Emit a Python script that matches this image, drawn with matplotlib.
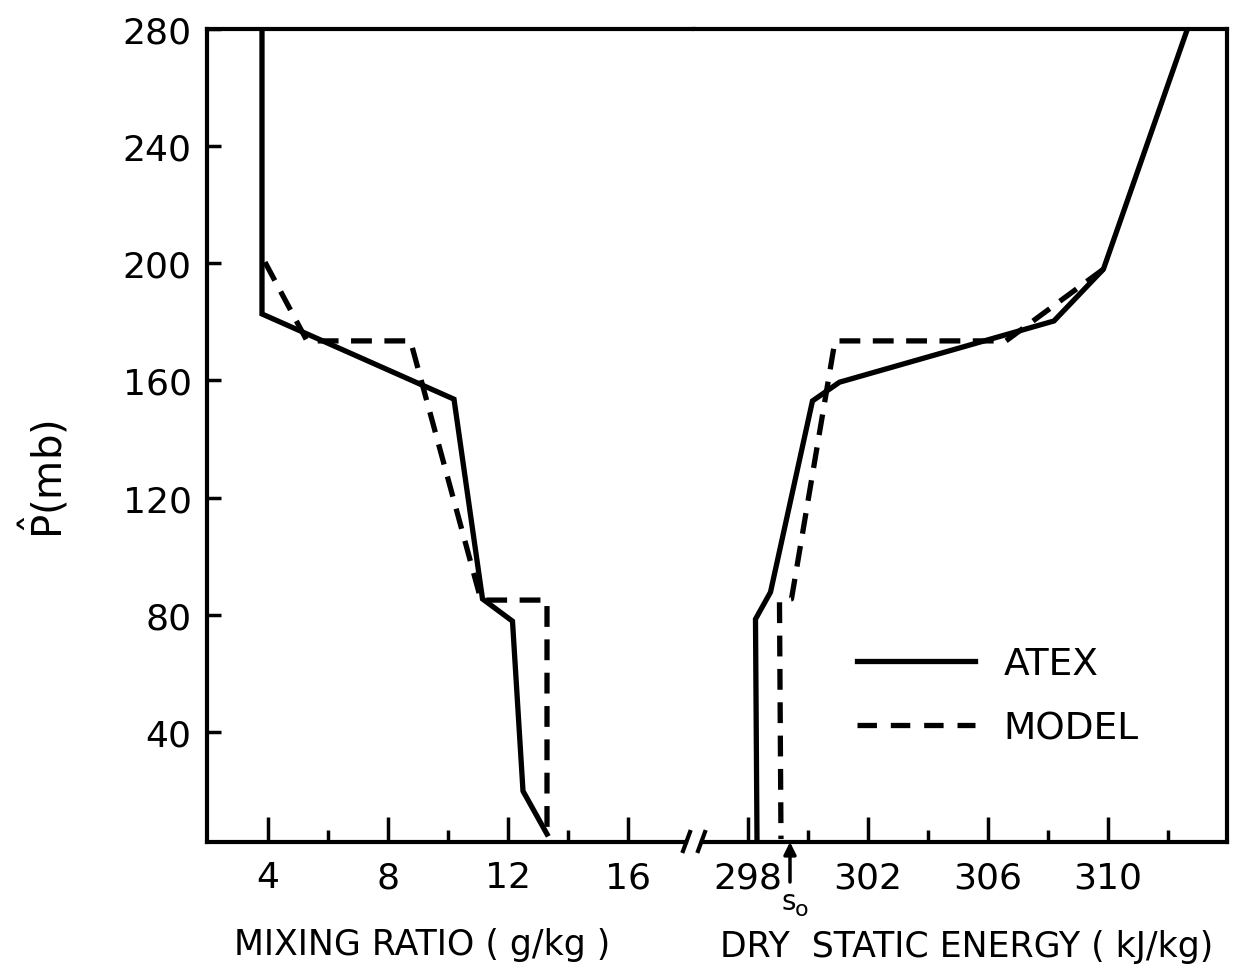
import numpy as np
import matplotlib.pyplot as plt
from matplotlib.lines import Line2D

plt.rcParams['font.family'] = ['DejaVu Sans']
plt.rcParams['lines.scale_dashes'] = False

# mixing ratio profiles (g/kg) against pressure depth (mb)
mr_atex_q = [3.8, 3.8, 10.2, 11.15, 12.15, 12.5, 13.3]
mr_atex_p = [280, 182.7, 153.6, 85.4, 77.8, 19.8, 5.1]
mr_model_q = [3.9, 5.3, 8.75, 11.1, 13.3, 13.3]
mr_model_p = [200.4, 173.5, 173.5, 85.0, 85.0, 5.1]

# dry static energy profiles (kJ/kg)
dse_atex_s = [312.65, 309.85, 308.2, 301.05, 300.15, 298.75, 298.25, 298.3]
dse_atex_p = [280, 198, 180.3, 159.4, 153, 87.7, 78.5, 3.4]
dse_model_s = [309.85, 306.6, 300.9, 299.45, 299.05, 299.1]
dse_model_p = [198, 173.5, 173.5, 85.4, 84.5, 3.4]

S0 = 299.4

p_ticks = [40, 80, 120, 160, 200, 240, 280]
q_major = [4, 8, 12, 16]
q_minor = [6, 10, 14]
s_major = [298, 302, 306, 310]
s_minor = [300, 304, 308, 312]

W, H = 1233, 970
fig = plt.figure(figsize=(W / 100, H / 100), dpi=100)

def fx(px):
    return px / W

def fy(py):
    return 1 - py / H

left, right, brk, top, bot = 207, 1227, 694, 30, 843
ax1 = fig.add_axes([fx(left), fy(bot), fx(brk - left), fy(top) - fy(bot)])
ax2 = fig.add_axes([fx(brk), fy(bot), fx(right - brk), fy(top) - fy(bot)], sharey=ax1)

lw = 3.8
dash = (15, 9)
for ax, xa, ya, xm, ym in [(ax1, mr_atex_q, mr_atex_p, mr_model_q, mr_model_p),
                           (ax2, dse_atex_s, dse_atex_p, dse_model_s, dse_model_p)]:
    ax.plot(xa, ya, color='k', lw=lw, solid_joinstyle='miter', label='ATEX')
    ax.plot(xm, ym, color='k', lw=lw, dashes=dash, label='MODEL')

ax1.set_xlim(1.967, 18.2)
ax2.set_xlim(296.2, 313.97)
ax1.set_ylim(2.4, 280)

for ax in (ax1, ax2):
    for sp in ax.spines.values():
        sp.set_linewidth(3)
ax1.spines['right'].set_visible(False)
ax2.spines['left'].set_visible(False)
ax1.spines['bottom'].set_bounds(1.967, 17.93)
ax2.spines['bottom'].set_bounds(296.47, 313.97)

ax1.set_yticks(p_ticks)
ax1.set_xticks(q_major)
ax1.set_xticks(q_minor, minor=True)
ax2.set_xticks(s_major)
ax2.set_xticks(s_minor, minor=True)
ax2.tick_params(axis='y', left=False, labelleft=False)

for ax in (ax1, ax2):
    ax.tick_params(axis='x', which='major', direction='in', length=18, width=2.5,
                   labelsize=26, pad=13)
    ax.tick_params(axis='x', which='minor', direction='in', length=9, width=2.5)
ax1.tick_params(axis='y', direction='in', length=10, width=2.5, labelsize=26, pad=11)

ax1.set_xlabel('MIXING RATIO ( g/kg )', fontsize=25)
ax1.xaxis.set_label_coords((422 - left) / (brk - left), -(945 - bot) / (bot - top))
ax1.xaxis.label.set_va('center')
ax2.set_xlabel('DRY  STATIC ENERGY ( kJ/kg)', fontsize=25)
ax2.xaxis.set_label_coords((967 - brk) / (right - brk), -(947 - bot) / (bot - top))
ax2.xaxis.label.set_va('center')

ax1.set_ylabel(r'$\hat{\mathsf{P}}$(mb)', fontsize=29)
ax1.yaxis.set_label_coords(-(207 - 72) / (brk - left), (bot - 480) / (bot - top))

# axis break marks
for x0 in (683, 698):
    fig.add_artist(Line2D([fx(x0), fx(x0 + 7)], [fy(852), fy(833)], color='k', lw=3))

# s_o arrow
ax2.annotate('', xy=(S0, 0), xycoords=('data', 'axes fraction'),
             xytext=(S0, -40 / (bot - top)), textcoords=('data', 'axes fraction'),
             arrowprops=dict(arrowstyle='-|>', lw=2.5, color='k', mutation_scale=18,
                             shrinkA=0, shrinkB=0))
ax2.text(S0 - 0.05, -45 / (bot - top), 's', transform=ax2.get_xaxis_transform(),
         fontsize=20, ha='center', va='top')
ax2.text(S0 + 0.4, -57 / (bot - top), 'o', transform=ax2.get_xaxis_transform(),
         fontsize=16, ha='center', va='top')

h = [Line2D([], [], color='k', lw=lw), Line2D([], [], color='k', lw=lw, dashes=(14, 10))]
fig.legend(h, ['ATEX', 'MODEL'], loc='center left',
           bbox_to_anchor=(fx(857), fy(697)), frameon=False, fontsize=27,
           handlelength=3.15, handletextpad=0.75, labelspacing=0.75,
           borderpad=0, borderaxespad=0)

fig.savefig('out.png', dpi=100)
